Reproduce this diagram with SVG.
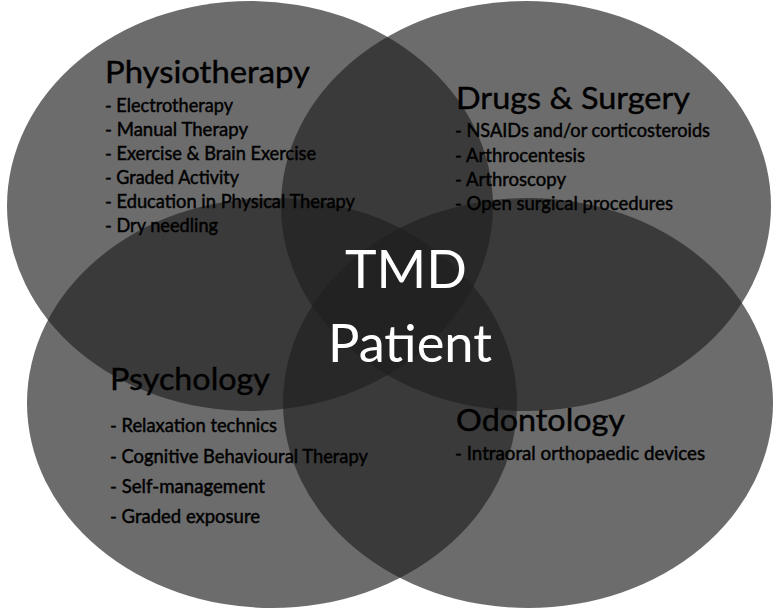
<svg xmlns="http://www.w3.org/2000/svg" width="782" height="612" viewBox="0 0 782 612">
  <style>
    .set { fill: #202020; fill-opacity: 0.66; }
    .title { font-family: Lato, "Open Sans", "Liberation Sans", sans-serif; font-size: 30px; fill: #000; stroke: #000; stroke-width: 0.4px; }
    .item { font-family: Lato, "Open Sans", "Liberation Sans", sans-serif; font-size: 18.5px; fill: #000; stroke: #000; stroke-width: 0.45px; }
    .center { font-family: Lato, "Open Sans", "Liberation Sans", sans-serif; font-size: 53px; fill: #fff; }
  </style>
  <rect x="0" y="0" width="782" height="612" fill="#ffffff"/>
  <g id="sets">
    <ellipse id="physiotherapy-set" class="set" cx="250" cy="206" rx="243" ry="205"/>
    <ellipse id="drugs-surgery-set" class="set" cx="526" cy="206" rx="245" ry="205"/>
    <ellipse id="psychology-set" class="set" cx="272" cy="403" rx="245" ry="205"/>
    <ellipse id="odontology-set" class="set" cx="528" cy="403" rx="245" ry="205"/>
  </g>
  <g id="physiotherapy">
    <text class="title" x="105" y="83" textLength="205" lengthAdjust="spacingAndGlyphs">Physiotherapy</text>
    <text class="item" x="105" y="112" textLength="128" lengthAdjust="spacingAndGlyphs">- Electrotherapy</text>
    <text class="item" x="105" y="136" textLength="143" lengthAdjust="spacingAndGlyphs">- Manual Therapy</text>
    <text class="item" x="105" y="160" textLength="211" lengthAdjust="spacingAndGlyphs">- Exercise &amp; Brain Exercise</text>
    <text class="item" x="105" y="184" textLength="134" lengthAdjust="spacingAndGlyphs">- Graded Activity</text>
    <text class="item" x="105" y="208" textLength="250" lengthAdjust="spacingAndGlyphs">- Education in Physical Therapy</text>
    <text class="item" x="105" y="232" textLength="113" lengthAdjust="spacingAndGlyphs">- Dry needling</text>
  </g>
  <g id="drugs-surgery">
    <text class="title" x="456" y="109" textLength="234" lengthAdjust="spacingAndGlyphs">Drugs &amp; Surgery</text>
    <text class="item" x="455" y="137" textLength="255" lengthAdjust="spacingAndGlyphs">- NSAIDs and/or corticosteroids</text>
    <text class="item" x="455" y="162" textLength="130" lengthAdjust="spacingAndGlyphs">- Arthrocentesis</text>
    <text class="item" x="455" y="186" textLength="111" lengthAdjust="spacingAndGlyphs">- Arthroscopy</text>
    <text class="item" x="455" y="210" textLength="218" lengthAdjust="spacingAndGlyphs">- Open surgical procedures</text>
  </g>
  <g id="psychology">
    <text class="title" x="110" y="390" textLength="160" lengthAdjust="spacingAndGlyphs">Psychology</text>
    <text class="item" x="110" y="432" textLength="167" lengthAdjust="spacingAndGlyphs">- Relaxation technics</text>
    <text class="item" x="110" y="463" textLength="258" lengthAdjust="spacingAndGlyphs">- Cognitive Behavioural Therapy</text>
    <text class="item" x="110" y="493" textLength="155" lengthAdjust="spacingAndGlyphs">- Self-management</text>
    <text class="item" x="110" y="523" textLength="150" lengthAdjust="spacingAndGlyphs">- Graded exposure</text>
  </g>
  <g id="odontology">
    <text class="title" x="456" y="431" textLength="169" lengthAdjust="spacingAndGlyphs">Odontology</text>
    <text class="item" x="455" y="460" textLength="250" lengthAdjust="spacingAndGlyphs">- Intraoral orthopaedic devices</text>
  </g>
  <g id="tmd-patient">
    <text class="center" x="345" y="288" textLength="122" lengthAdjust="spacingAndGlyphs">TMD</text>
    <text class="center" x="328" y="362" textLength="164" lengthAdjust="spacingAndGlyphs">Patient</text>
  </g>
</svg>
